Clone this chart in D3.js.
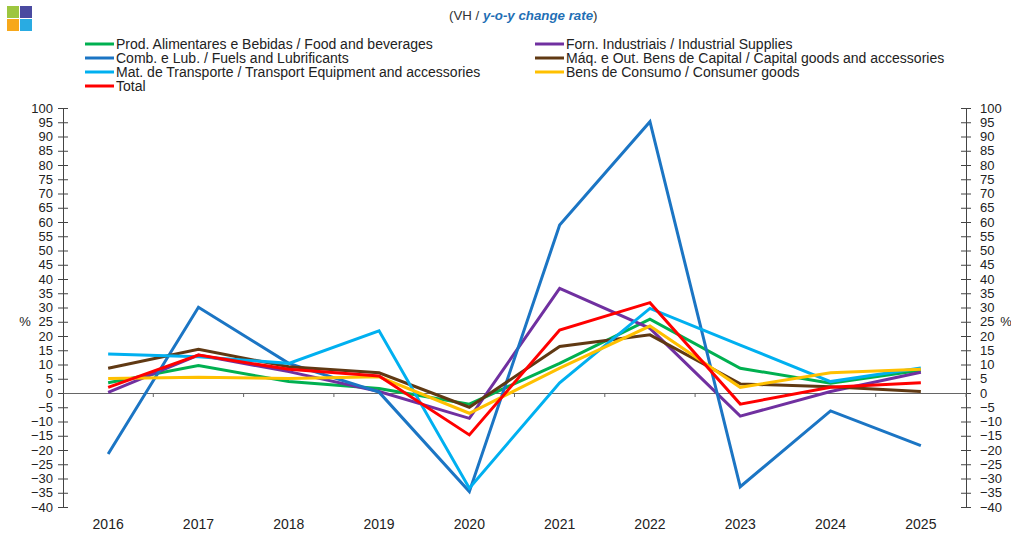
<!DOCTYPE html>
<html>
<head>
<meta charset="utf-8">
<script src="https://cdn.jsdelivr.net/npm/d3@7"></script>
<style>
  body { margin: 0; background: #fff; }
  text { font-family: "Liberation Sans", Arial, sans-serif; }
</style>
</head>
<body>
<div id="chart"></div>
<script>
var years = ["2016","2017","2018","2019","2020","2021","2022","2023","2024","2025"];
var yTicks = d3.range(-40, 101, 5);

var food = [3.6, 9.6, 4.0, 1.6, -3.9, 10.4, 25.9, 8.7, 3.4, 8.0];
var industrial = [0.2, 13.3, 7.5, 0.5, -8.9, 36.7, 22.7, -8.1, 0.5, 7.3];
var fuels = [-21.4, 30.1, 10.4, 0.3, -34.6, 58.9, 95.2, -32.9, -6.3, -18.5];
var capital = [8.7, 15.3, 9.2, 7.1, -5.0, 16.3, 20.4, 3.2, 2.2, 0.5];
var transport = [13.7, 12.7, 10.4, 21.8, -33.4, 3.6, 29.7, 16.8, 4.0, 8.8];
var consumer = [5.1, 5.5, 5.1, 5.7, -7.1, 8.7, 23.5, 2.0, 7.1, 8.3];
var total = [2.0, 13.3, 8.3, 6.0, -14.7, 22.1, 31.7, -3.9, 2.0, 3.6];

var seriesNames = [
  "Prod. Alimentares e Bebidas / Food and beverages",
  "Forn. Industriais / Industrial Supplies",
  "Comb. e Lub. /  Fuels and Lubrificants",
  "Máq. e Out. Bens de Capital / Capital goods and accessories",
  "Mat. de Transporte / Transport Equipment and accessories",
  "Bens de Consumo / Consumer goods",
  "Total"
];
var seriesValues = [food, industrial, fuels, capital, transport, consumer, total];
var seriesColors = ["#00b050", "#7030a0", "#1b75c4", "#603913", "#00b0f0", "#ffc000", "#ff0000"];

var width = 1011, height = 533,
    plotLeft = 63, plotRight = 966, plotTop = 108, plotBottom = 507;

var svg = d3.select("#chart").append("svg")
    .attr("width", width)
    .attr("height", height);

var x = d3.scaleBand().domain(years).range([plotLeft, plotRight]);
var y = d3.scaleLinear().domain([-40, 100]).range([plotBottom, plotTop]);

// logo
var logo = [["#9dc63f", 7, 6], ["#4a4aa0", 20, 6], ["#f7a81b", 7, 19], ["#29abe2", 20, 19]];
svg.selectAll(".logo").data(logo).enter().append("rect")
    .attr("x", d => d[1]).attr("y", d => d[2])
    .attr("width", 12).attr("height", 12)
    .style("fill", d => d[0]);

// subtitle
var sub = svg.append("text")
    .attr("x", 449).attr("y", 20)
    .style("font-size", "13.3px").style("fill", "#333");
sub.append("tspan").text("(VH / ");
sub.append("tspan").text("y-o-y change rate")
    .style("font-weight", "bold").style("font-style", "italic").style("fill", "#1f6fb5");
sub.append("tspan").text(")");

// legend
var legendPos = [[85, 44], [535, 44], [85, 58], [535, 58], [85, 72], [535, 72], [85, 86]];
var legend = svg.selectAll(".legend").data(seriesNames).enter().append("g")
    .attr("class", "legend")
    .attr("transform", (d, i) => `translate(${legendPos[i][0]},${legendPos[i][1]})`);
legend.append("line")
    .attr("x1", 0).attr("x2", 29)
    .style("stroke", (d, i) => seriesColors[i])
    .style("stroke-width", 3);
legend.append("text")
    .attr("x", 31).attr("dy", "0.35em")
    .style("font-size", "14px").style("fill", "#222")
    .text(d => d);

// left axis
var yLeft = svg.append("g")
    .attr("transform", `translate(${plotLeft},0)`)
    .call(d3.axisLeft(y).tickValues(yTicks).tickSizeOuter(0));
yLeft.selectAll(".tick line").attr("x1", -5).attr("x2", 5);
yLeft.selectAll(".tick text").attr("x", -10).style("font-size", "13px").style("font-family", "Liberation Sans, Arial");

// right axis
var yRight = svg.append("g")
    .attr("transform", `translate(${plotRight},0)`)
    .call(d3.axisRight(y).tickValues(yTicks).tickSizeOuter(0));
yRight.selectAll(".tick line").attr("x1", -5).attr("x2", 5);
yRight.selectAll(".tick text").attr("x", 14).style("font-size", "13px").style("font-family", "Liberation Sans, Arial");

svg.selectAll(".domain, .tick line").style("stroke", "#444");
svg.selectAll(".tick text").style("fill", "#222");

// zero line with category ticks
var zeroAxis = svg.append("g")
    .attr("transform", `translate(0,${y(0)})`)
    .call(d3.axisBottom(x).tickSize(4).tickSizeOuter(0).tickFormat(""));
zeroAxis.selectAll(".tick line").attr("transform", `translate(${x.bandwidth() / 2},0)`);
zeroAxis.selectAll(".domain, .tick line").style("stroke", "#666");

// year labels
var xLabels = svg.append("g")
    .attr("transform", `translate(0,${plotBottom})`)
    .call(d3.axisBottom(x).tickSize(0).tickPadding(12));
xLabels.select(".domain").remove();
xLabels.selectAll("text").style("font-size", "14px").style("fill", "#222").style("font-family", "Liberation Sans, Arial");

// % labels
svg.append("text").attr("x", 25).attr("y", y(25)).attr("dy", "0.35em")
    .style("text-anchor", "middle").style("font-size", "13px").style("fill", "#222").text("%");
svg.append("text").attr("x", 1006).attr("y", y(25)).attr("dy", "0.35em")
    .style("text-anchor", "middle").style("font-size", "13px").style("fill", "#222").text("%");

// lines
var line = d3.line()
    .x((d, i) => x(years[i]) + x.bandwidth() / 2)
    .y(d => y(d));

svg.selectAll(".series").data(seriesValues).enter().append("path")
    .attr("class", "series")
    .attr("d", d => line(d))
    .style("fill", "none")
    .style("stroke", (d, i) => seriesColors[i])
    .style("stroke-width", 3)
    .style("stroke-linejoin", "miter");
</script>
</body>
</html>
